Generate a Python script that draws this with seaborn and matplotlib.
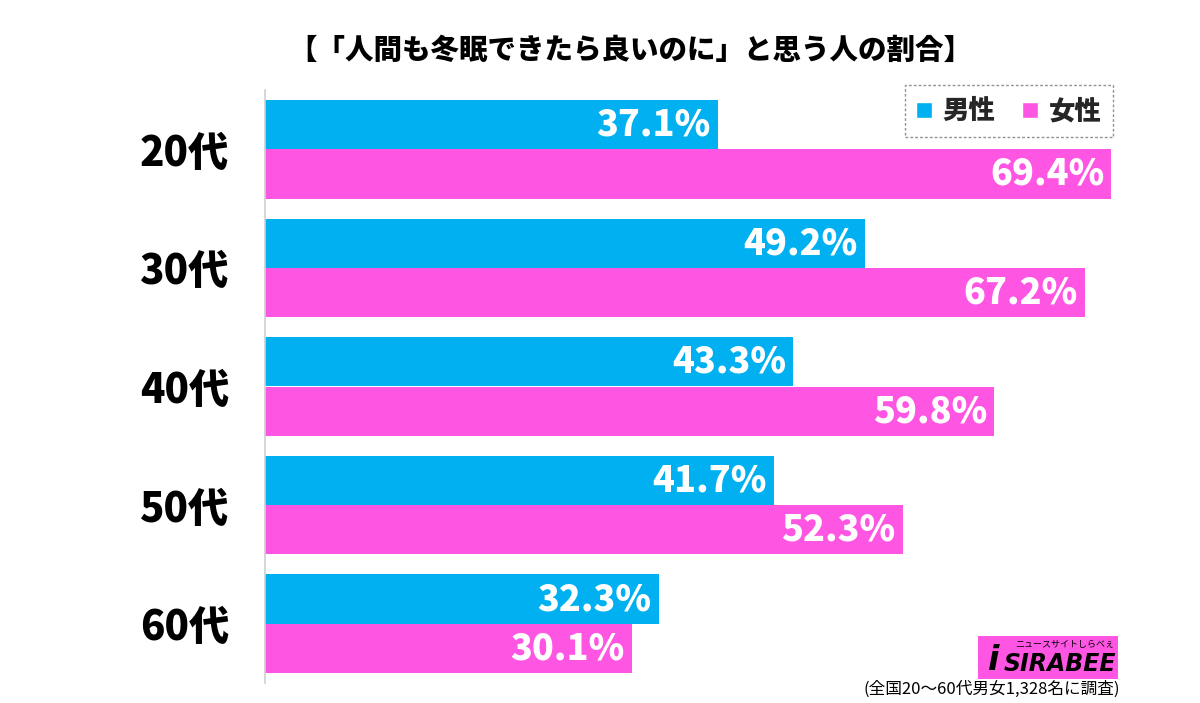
import pandas as pd
import matplotlib.pyplot as plt
import seaborn as sns
from matplotlib.patches import Rectangle, Patch

# data
ages = ['20代', '30代', '40代', '50代', '60代']
male = [37.1, 49.2, 43.3, 41.7, 32.3]
female = [69.4, 67.2, 59.8, 52.3, 30.1]
series = ['男性', '女性']
colors = ['#00B0F0', '#FF55E3']
title = '【「人間も冬眠できたら良いのに」と思う人の割合】'
note = '(全国20～60代男女1,328名に調査)'

df = pd.DataFrame({
    'age': ages * 2,
    'sex': [series[0]] * len(ages) + [series[1]] * len(ages),
    'value': male + female,
})

sns.set_theme(style='white')
plt.rcParams['font.family'] = ['Noto Sans CJK JP', 'DejaVu Sans']

W, H = 1200, 703
fig = plt.figure(figsize=(12, 7.03), dpi=100)
ax = fig.add_axes([265 / W, 1 - 683 / H, 927 / W, 593 / H])

sns.barplot(data=df, x='value', y='age', hue='sex', order=ages,
            hue_order=series, palette=colors, orient='h', width=0.83,
            saturation=1, ax=ax, legend=False, linewidth=0,
            edgecolor='none')

ax.set_xlim(0, 76)
ax.set_ylim(4.5, -0.5)
ax.set_xlabel('')
ax.set_ylabel('')
ax.set_xticks([])
for s in ['top', 'right', 'bottom']:
    ax.spines[s].set_visible(False)
ax.spines['left'].set_color('#d0d0d0')
ax.spines['left'].set_linewidth(1.2)
ax.tick_params(axis='y', length=0, pad=26)
for lbl in ax.get_yticklabels():
    lbl.set_fontsize(29)
    lbl.set_fontweight('heavy')
    lbl.set_color('black')

for cont in ax.containers:
    for bar in cont:
        w = bar.get_width()
        y = bar.get_y() + bar.get_height() / 2
        ax.text(w - 0.6, y, f'{w:.1f}%', ha='right', va='center',
                color='white', fontsize=26, fontweight='heavy')

fig.text(0.525, 1 - 50 / H, title, ha='center', va='center',
         fontsize=20.5, fontweight='heavy', color='black')

handles = [Patch(facecolor=c, label=s) for c, s in zip(colors, series)]
leg = ax.legend(handles=handles, loc='upper right', ncol=2,
                bbox_to_anchor=(1113 / W, 1 - 85 / H),
                bbox_transform=fig.transFigure, borderaxespad=0,
                prop={'size': 19, 'weight': 'heavy'},
                handlelength=0.6, handleheight=0.6, handletextpad=0.4,
                columnspacing=1.0, frameon=True, fancybox=False,
                borderpad=0.45)
leg.get_frame().set_edgecolor('#777777')
leg.get_frame().set_linestyle((0, (2, 1.5)))
leg.get_frame().set_linewidth(1.0)

# logo approximation
fig.patches.append(Rectangle((978 / W, 1 - 679 / H), 140 / W, 43 / H,
                             transform=fig.transFigure, facecolor='#FF55E3',
                             edgecolor='none'))
fig.text(1060 / W, 1 - 664 / H, 'SIRABEE', ha='center', va='center',
         fontsize=17, fontweight='bold', fontstyle='italic', color='black',
         family=['DejaVu Sans'])
fig.text(1065 / W, 1 - 645 / H, 'ニュースサイトしらべぇ', ha='center',
         va='center', fontsize=6.5, color='black')
fig.text(994 / W, 1 - 660 / H, 'i', ha='center', va='center', fontsize=24,
         fontweight='bold', fontstyle='italic', color='black',
         family=['DejaVu Sans'])

fig.text(1120 / W, 1 - 689 / H, note, ha='right', va='center',
         fontsize=12, color='black')

fig.savefig('out.png', dpi=100, facecolor='white')
